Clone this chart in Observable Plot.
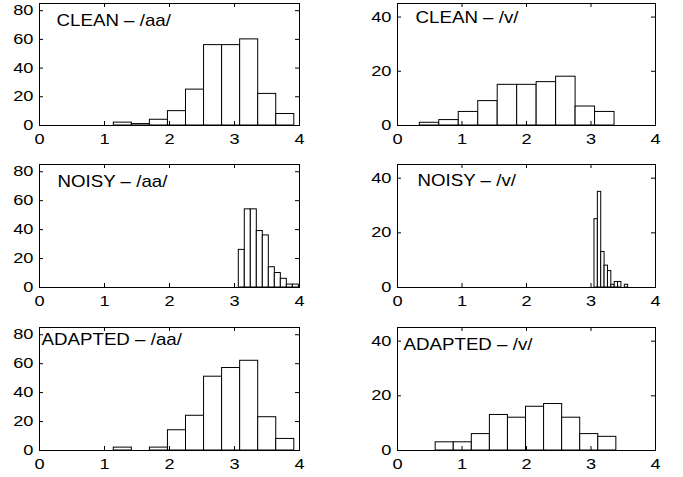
<!DOCTYPE html>
<html><head><meta charset="utf-8">
<script src="https://cdn.jsdelivr.net/npm/d3@7"></script>
<script src="https://cdn.jsdelivr.net/npm/@observablehq/plot@0.6"></script>
<style>
body{margin:0;background:#fff;}
#chart{position:relative;width:683px;height:477px;background:#fff;}
#chart svg{position:absolute;}
</style></head><body><div id="chart"></div>
<script>
// ---- data ----
const xTicks = [0, 1, 2, 3, 4];
const yTicksAa = [0, 20, 40, 60, 80];
const yTicksV = [0, 20, 40];
const yMaxAa = 85;
const yMaxV = 45;

const titles = ["CLEAN – /aa/", "CLEAN – /v/", "NOISY – /aa/", "NOISY – /v/", "ADAPTED – /aa/", "ADAPTED – /v/"];

// histogram ranges (min, max of the 10 equal bins) and counts
const cleanAaRange = [1.143, 3.92];
const cleanAaCounts = [2, 1, 4, 10, 25, 56, 56, 60, 22, 8];
const cleanVRange = [0.346, 3.365];
const cleanVCounts = [1, 2, 5, 9, 15, 15, 16, 18, 7, 5];
const noisyAaRange = [3.066, 3.99];
const noisyAaCounts = [26, 54, 54, 39, 36, 14, 10, 6, 2, 2];
const noisyVRange = [3.054, 3.576];
const noisyVCounts = [25, 35, 13, 8, 6, 1, 2, 2, 0, 1];
const adaptedAaRange = [1.143, 3.92];
const adaptedAaCounts = [2, 0, 2, 14, 24, 51, 57, 62, 23, 8];
const adaptedVRange = [0.592, 3.393];
const adaptedVCounts = [3, 3, 6, 13, 12, 16, 17, 12, 6, 5];

const FONT = "'Liberation Sans', Arial, Helvetica, sans-serif";
const chart = document.getElementById("chart");

// the reference uses a horizontally wide Helvetica; widen each text around its own anchor
function widen(t, s) {
  const b = t.getBBox();
  const anchor = getComputedStyle(t).textAnchor;
  const ax = anchor === "end" ? b.x + b.width : anchor === "middle" ? b.x + b.width / 2 : b.x;
  const tr = t.getAttribute("transform");
  t.setAttribute("transform", (tr ? tr + " " : "") + `translate(${ax},0) scale(${s},1) translate(${-ax},0)`);
}

function panel(o) {
  const n = o.counts.length;
  const step = (o.range[1] - o.range[0]) / n;
  const bins = o.counts.map((c, i) => ({x1: o.range[0] + i * step, x2: o.range[0] + (i + 1) * step, count: c}));
  const mL = 50, mR = 20, mT = 10, mB = 30;
  const svg = Plot.plot({
    width: o.pw + mL + mR,
    height: o.ph + mT + mB,
    marginLeft: mL, marginRight: mR, marginTop: mT, marginBottom: mB,
    style: {fontFamily: FONT, fontSize: "14px", color: "black", background: "transparent", overflow: "visible"},
    x: {domain: [0, 4], ticks: xTicks, tickSize: 0, tickPadding: 9, label: null, tickFormat: d => String(d)},
    y: {domain: [0, o.yMax], ticks: o.yTicks, tickSize: 0, tickPadding: 6, label: null, tickFormat: d => String(d)},
    marks: [
      Plot.rectY(bins, {x1: "x1", x2: "x2", y1: 0, y2: "count", fill: "white", stroke: "black", strokeWidth: 1}),
      Plot.frame({stroke: "black", strokeWidth: 1}),
      Plot.ruleX(xTicks, {x: d => d, insetTop: o.ph - 4, stroke: "black"}),
      Plot.ruleX(xTicks, {x: d => d, insetBottom: o.ph - 4, stroke: "black"}),
      Plot.ruleY(o.yTicks, {y: d => d, insetRight: o.pw - 4, stroke: "black"}),
      Plot.ruleY(o.yTicks, {y: d => d, insetLeft: o.pw - 4, stroke: "black"}),
      Plot.text([o.title], {frameAnchor: "top-left", dx: o.tdx, dy: o.tdy, textAnchor: "start", lineAnchor: "middle", fontSize: 16, fill: "black"})
    ]
  });
  svg.style.left = (o.left - mL) + "px";
  svg.style.top = (o.top - mT) + "px";
  chart.appendChild(svg);
  svg.querySelectorAll("text").forEach(t => widen(t, t.textContent === o.title ? 1.17 : 1.3));
}

const L = {left: 39, pw: 260, yMax: yMaxAa, yTicks: yTicksAa};
const R = {left: 397, pw: 258, yMax: yMaxV, yTicks: yTicksV};

panel({...L, top: 3, ph: 122, title: titles[0], range: cleanAaRange, counts: cleanAaCounts, tdx: 17, tdy: 17});
panel({...R, top: 3, ph: 122, title: titles[1], range: cleanVRange, counts: cleanVCounts, tdx: 18, tdy: 14});
panel({...L, top: 164, ph: 123, title: titles[2], range: noisyAaRange, counts: noisyAaCounts, tdx: 18, tdy: 17});
panel({...R, top: 164, ph: 123, title: titles[3], range: noisyVRange, counts: noisyVCounts, tdx: 20, tdy: 16});
panel({...L, top: 327, ph: 123, title: titles[4], range: adaptedAaRange, counts: adaptedAaCounts, tdx: 2, tdy: 12});
panel({...R, top: 327, ph: 123, title: titles[5], range: adaptedVRange, counts: adaptedVCounts, tdx: 6, tdy: 17});
</script></body></html>
